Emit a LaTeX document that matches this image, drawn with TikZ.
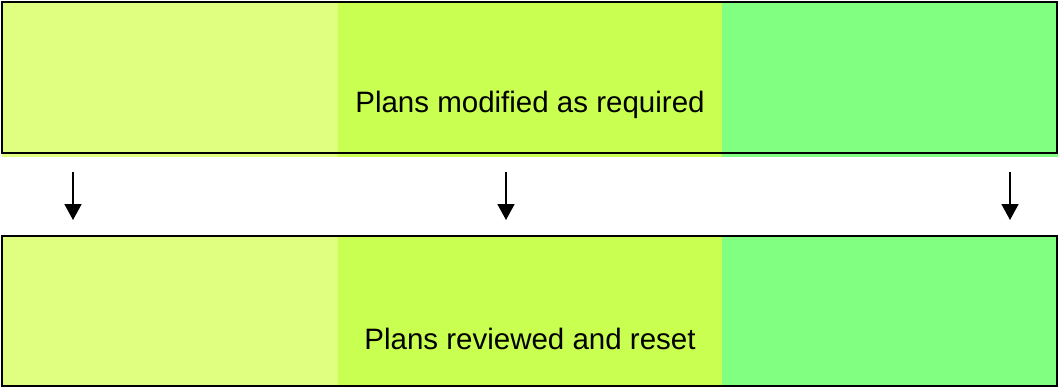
\documentclass[tikz,border=0pt]{standalone}
\usepackage{fontspec}
\setmainfont{Liberation Sans}
\usetikzlibrary{arrows.meta}
\definecolor{bandA}{RGB}{224,255,128}
\definecolor{bandB}{RGB}{200,255,80}
\definecolor{bandC}{RGB}{128,255,128}
\tikzset{
  frame/.style={draw=black, line width=2bp},
  label/.style={font=\fontsize{29.5bp}{34bp}\selectfont, inner sep=0pt},
  flow/.style={line width=1.6bp, -{Triangle[length=16bp,width=17bp]}}
}
\begin{document}
\begin{tikzpicture}[x=1bp,y=-1bp]
  \useasboundingbox (0,0) rectangle (1060,387);
  % upper band
  \fill[bandA] (2,2) rectangle (338,157);
  \fill[bandB] (338,2) rectangle (722,157);
  \fill[bandC] (722,2) rectangle (1058,157);
  \draw[frame] (2,2) rectangle (1057,153);
  \node[label] (top) at (530,105) {Plans modified as required};
  % lower band
  \fill[bandA] (2,236) rectangle (338,386);
  \fill[bandB] (338,236) rectangle (722,386);
  \fill[bandC] (722,236) rectangle (1058,386);
  \draw[frame] (2,236) rectangle (1057,385.5);
  \node[label] (bottom) at (530,339) {Plans reviewed and reset};
  % arrows between the bands
  \coordinate (a1) at (73,172);   \coordinate (b1) at (73,220);
  \coordinate (a2) at (506,172);  \coordinate (b2) at (506,220);
  \coordinate (a3) at (1010,172); \coordinate (b3) at (1010,220);
  \draw[flow] (a1) -- (b1);
  \draw[flow] (a2) -- (b2);
  \draw[flow] (a3) -- (b3);
\end{tikzpicture}
\end{document}
